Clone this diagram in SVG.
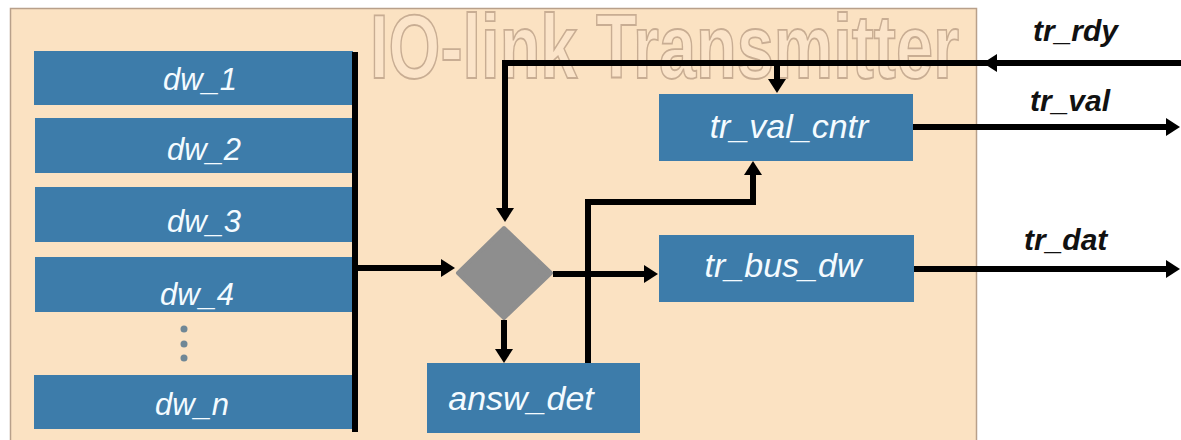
<svg xmlns="http://www.w3.org/2000/svg" width="1181" height="440" viewBox="0 0 1181 440">
  <style>
    .blk { fill: #3d7caa; }
    .lbl { font-family: "Liberation Sans", Arial, sans-serif; font-style: italic; fill: #f4fbff; text-anchor: middle; }
    .sig { font-family: "Liberation Sans", Arial, sans-serif; font-style: italic; font-weight: bold; font-size: 30px; fill: #111; }
    .wire { fill: none; stroke: #000; stroke-width: 6; stroke-linejoin: miter; }
  </style>
  <defs>
    <marker id="head" markerUnits="userSpaceOnUse" markerWidth="14" markerHeight="18" refX="0" refY="9" orient="auto">
      <path d="M0,0 L14,9 L0,18 z" fill="#000"/>
    </marker>
  </defs>

  <!-- module frame with condensed outline title -->
  <g id="frame">
    <rect x="10.5" y="8.5" width="966" height="440" fill="#fbe2c2" stroke="#b8a08a" stroke-width="1.5"/>
    <text transform="translate(370,78) scale(0.741,1)" x="0" y="0" font-family="'Liberation Sans', Arial, sans-serif" font-weight="bold" font-size="90" fill="#fbe4c9" stroke="#c8ad93" stroke-width="1.6" vector-effect="non-scaling-stroke">IO-link Transmitter</text>
  </g>

  <!-- data word registers -->
  <g id="dw_1"><rect class="blk" x="34" y="51" width="319" height="54"/><text class="lbl" x="200" y="90" font-size="31">dw_1</text></g>
  <g id="dw_2"><rect class="blk" x="35" y="118" width="318" height="55"/><text class="lbl" x="204" y="160" font-size="31">dw_2</text></g>
  <g id="dw_3"><rect class="blk" x="35" y="187" width="318" height="55"/><text class="lbl" x="204" y="232" font-size="31">dw_3</text></g>
  <g id="dw_4"><rect class="blk" x="35" y="257" width="318" height="55"/><text class="lbl" x="197" y="305" font-size="31">dw_4</text></g>
  <g id="dw_more" fill="#6f8796">
    <circle cx="184" cy="329" r="3.5"/>
    <circle cx="184" cy="344" r="3.5"/>
    <circle cx="184" cy="358" r="3.5"/>
  </g>
  <g id="dw_n"><rect class="blk" x="34" y="375" width="319" height="54"/><text class="lbl" x="192" y="415" font-size="31">dw_n</text></g>

  <!-- selector -->
  <g id="mux">
    <polygon points="504,228 551,273 504,318 458,273" fill="#8e8e8e" stroke="#8e8e8e" stroke-width="4" stroke-linejoin="round"/>
  </g>

  <g id="answ_det"><rect class="blk" x="427" y="363" width="213" height="70"/><text class="lbl" x="521" y="410" font-size="34">answ_det</text></g>
  <g id="tr_val_cntr"><rect class="blk" x="659" y="94" width="254" height="67"/><text class="lbl" x="789" y="138" font-size="34">tr_val_cntr</text></g>
  <g id="tr_bus_dw"><rect class="blk" x="659" y="235" width="255" height="67"/><text class="lbl" x="783" y="277" font-size="34">tr_bus_dw</text></g>

  <!-- connectors -->
  <g id="connectors">
    <path class="wire" d="M355,52 V432"/>
    <path class="wire" d="M358,268 H441" marker-end="url(#head)"/>
    <path class="wire" d="M1181,63 H997" marker-end="url(#head)"/>
    <path class="wire" d="M990,63 H505 V208" marker-end="url(#head)"/>
    <path class="wire" d="M777,63 V79" marker-end="url(#head)"/>
    <path class="wire" d="M504,320 V349" marker-end="url(#head)"/>
    <path class="wire" d="M553,274 H644" marker-end="url(#head)"/>
    <path class="wire" d="M588,363 V202 H753 V175" marker-end="url(#head)"/>
    <path class="wire" d="M913,127 H1166" marker-end="url(#head)"/>
    <path class="wire" d="M914,269 H1166" marker-end="url(#head)"/>
  </g>

  <!-- port names -->
  <g id="ports">
    <text class="sig" x="1033" y="41">tr_rdy</text>
    <text class="sig" x="1030" y="111">tr_val</text>
    <text class="sig" x="1024" y="250">tr_dat</text>
  </g>
</svg>
